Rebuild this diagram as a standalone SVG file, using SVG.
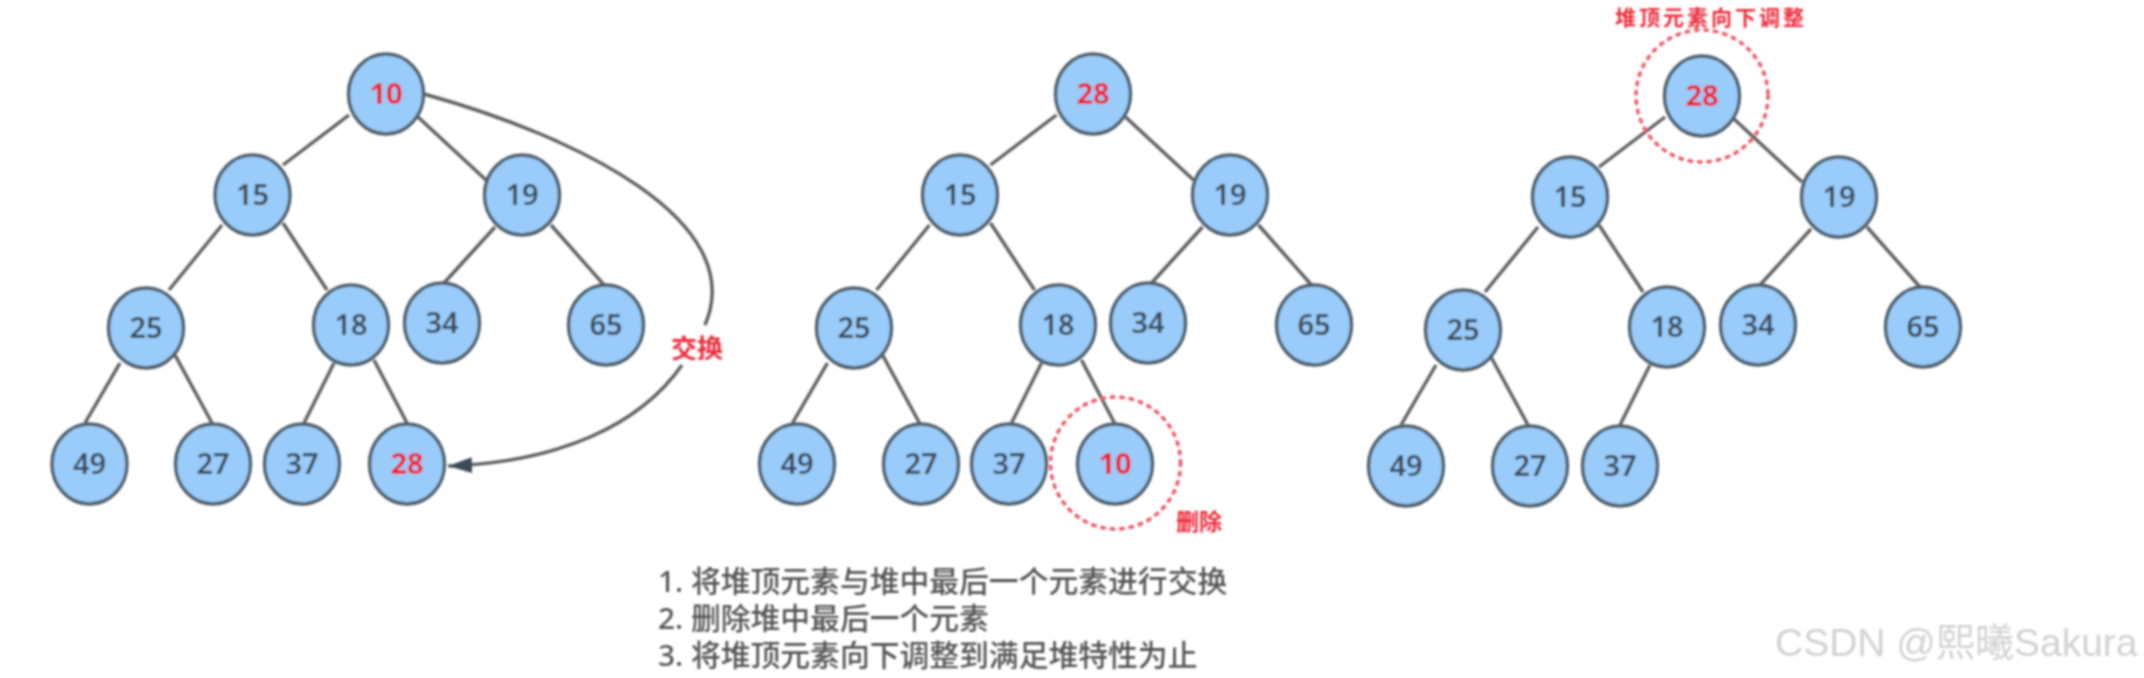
<svg xmlns="http://www.w3.org/2000/svg" width="2144" height="678" viewBox="0 0 2144 678">
<style>
.n ellipse{fill:#99ccfa;stroke:#505e6b;stroke-width:3.4}
.n text{font:600 29px "Noto Sans","Open Sans",sans-serif;fill:#3d4a58;text-anchor:middle}
.n text.r{fill:#ee2233;font-weight:700}
.e line{stroke:#5e5e5e;stroke-width:3.4}
.ring{fill:none;stroke:#ee5a68;stroke-width:3.6;stroke-dasharray:2.5 7;stroke-linecap:round}
.lab{font:700 24px "Noto Sans CJK SC",sans-serif;fill:#ee2b3a;text-anchor:middle}
.step{font:500 29.8px "Noto Sans","Noto Sans CJK SC",sans-serif;fill:#555}
.wm{font:400 39px "Liberation Sans","Noto Sans CJK SC",sans-serif;fill:#d2d2d2}
</style>
<defs>
<filter id="soft" x="0" y="0" width="2144" height="678" filterUnits="userSpaceOnUse"><feGaussianBlur stdDeviation="1"/></filter>
<marker id="arrow" markerUnits="userSpaceOnUse" markerWidth="26" markerHeight="18" refX="24" refY="8" orient="auto"><path d="M0 0L24 8L0 16Z" fill="#3d4a58"/></marker>
</defs>
<rect width="2144" height="678" fill="#fff"/>
<g filter="url(#soft)">
<g id="connectors" class="e">
<g id="edges-1">
<line x1="349" y1="115" x2="283" y2="165"/><line x1="418" y1="117" x2="486" y2="180"/>
<line x1="222" y1="225" x2="169" y2="290"/><line x1="283" y1="223" x2="327" y2="290"/>
<line x1="495" y1="227" x2="444" y2="283"/><line x1="551" y1="225" x2="604" y2="285"/>
<line x1="120" y1="363" x2="85" y2="423"/><line x1="175" y1="355" x2="212" y2="423"/>
<line x1="334" y1="363" x2="304" y2="423"/><line x1="374" y1="360" x2="407" y2="423"/>
</g>
<g id="edges-2" transform="translate(707.5 0)">
<line x1="349" y1="115" x2="283" y2="165"/><line x1="418" y1="117" x2="486" y2="180"/>
<line x1="222" y1="225" x2="169" y2="290"/><line x1="283" y1="223" x2="327" y2="290"/>
<line x1="495" y1="227" x2="444" y2="283"/><line x1="551" y1="225" x2="604" y2="285"/>
<line x1="120" y1="363" x2="85" y2="423"/><line x1="175" y1="355" x2="212" y2="423"/>
<line x1="334" y1="363" x2="304" y2="423"/><line x1="374" y1="360" x2="407" y2="423"/>
</g>
<g id="edges-3" transform="translate(1316 2)">
<line x1="349" y1="115" x2="283" y2="165"/><line x1="418" y1="117" x2="486" y2="180"/>
<line x1="222" y1="225" x2="169" y2="290"/><line x1="283" y1="223" x2="327" y2="290"/>
<line x1="495" y1="227" x2="444" y2="283"/><line x1="551" y1="225" x2="604" y2="285"/>
<line x1="120" y1="363" x2="85" y2="423"/><line x1="175" y1="355" x2="212" y2="423"/>
<line x1="334" y1="363" x2="304" y2="423"/>
</g>
<path id="swap-a" d="M424 94C575 136 750 220 705 325" fill="none" stroke="#5e5e5e" stroke-width="3.4"/>
<path id="swap-b" d="M682 365C640 425 560 462 448 466" fill="none" stroke="#5e5e5e" stroke-width="3.4" marker-end="url(#arrow)"/>
</g>
<ellipse id="ring-delete" class="ring" cx="1115.5" cy="463" rx="65" ry="66"/>
<ellipse id="ring-top" class="ring" cx="1702" cy="96" rx="66" ry="66"/>
<g class="n" id="t1n10"><ellipse cx="386" cy="94" rx="37.5" ry="40"/><text class="r" x="386" y="104">10</text></g>
<g class="n" id="t1n15"><ellipse cx="252.5" cy="195" rx="37.5" ry="40"/><text x="252.5" y="205">15</text></g>
<g class="n" id="t1n19"><ellipse cx="522" cy="195" rx="37.5" ry="40"/><text x="522" y="205">19</text></g>
<g class="n" id="t1n25"><ellipse cx="146" cy="328" rx="37.5" ry="40"/><text x="146" y="338">25</text></g>
<g class="n" id="t1n18"><ellipse cx="351" cy="325" rx="37.5" ry="40"/><text x="351" y="335">18</text></g>
<g class="n" id="t1n34"><ellipse cx="442" cy="323" rx="37.5" ry="40"/><text x="442" y="333">34</text></g>
<g class="n" id="t1n65"><ellipse cx="606" cy="325" rx="37.5" ry="40"/><text x="606" y="335">65</text></g>
<g class="n" id="t1n49"><ellipse cx="89.500" cy="464" rx="37.5" ry="40"/><text x="89.500" y="474">49</text></g>
<g class="n" id="t1n27"><ellipse cx="213" cy="464" rx="37.5" ry="40"/><text x="213" y="474">27</text></g>
<g class="n" id="t1n37"><ellipse cx="302" cy="464" rx="37.5" ry="40"/><text x="302" y="474">37</text></g>
<g class="n" id="t1n28"><ellipse cx="407" cy="464" rx="37.5" ry="40"/><text class="r" x="407" y="474">28</text></g>
<g class="n" id="t2n28"><ellipse cx="1093" cy="94" rx="37.500" ry="40"/><text class="r" x="1093" y="104">28</text></g>
<g class="n" id="t2n15"><ellipse cx="960" cy="195" rx="37.5" ry="40"/><text x="960" y="205">15</text></g>
<g class="n" id="t2n19"><ellipse cx="1230" cy="195" rx="37.5" ry="40"/><text x="1230" y="205">19</text></g>
<g class="n" id="t2n25"><ellipse cx="854" cy="328" rx="37.5" ry="40"/><text x="854" y="338">25</text></g>
<g class="n" id="t2n18"><ellipse cx="1058" cy="325" rx="37.5" ry="40"/><text x="1058" y="335">18</text></g>
<g class="n" id="t2n34"><ellipse cx="1148" cy="323" rx="37.5" ry="40"/><text x="1148" y="333">34</text></g>
<g class="n" id="t2n65"><ellipse cx="1314" cy="325" rx="37.5" ry="40"/><text x="1314" y="335">65</text></g>
<g class="n" id="t2n49"><ellipse cx="797" cy="464" rx="37.5" ry="40"/><text x="797" y="474">49</text></g>
<g class="n" id="t2n27"><ellipse cx="921" cy="464" rx="37.5" ry="40"/><text x="921" y="474">27</text></g>
<g class="n" id="t2n37"><ellipse cx="1009" cy="464" rx="37.5" ry="40"/><text x="1009" y="474">37</text></g>
<g class="n" id="t2n10"><ellipse cx="1115" cy="464" rx="37.5" ry="40"/><text class="r" x="1115" y="474">10</text></g>
<g class="n" id="t3n28"><ellipse cx="1702" cy="96" rx="37.5" ry="40"/><text class="r" x="1702" y="106">28</text></g>
<g class="n" id="t3n15"><ellipse cx="1570" cy="197" rx="37.5" ry="40"/><text x="1570" y="207">15</text></g>
<g class="n" id="t3n19"><ellipse cx="1839" cy="197" rx="37.5" ry="40"/><text x="1839" y="207">19</text></g>
<g class="n" id="t3n25"><ellipse cx="1463" cy="330" rx="37.5" ry="40"/><text x="1463" y="340">25</text></g>
<g class="n" id="t3n18"><ellipse cx="1667" cy="327" rx="37.5" ry="40"/><text x="1667" y="337">18</text></g>
<g class="n" id="t3n34"><ellipse cx="1758" cy="325" rx="37.5" ry="40"/><text x="1758" y="335">34</text></g>
<g class="n" id="t3n65"><ellipse cx="1923" cy="327" rx="37.5" ry="40"/><text x="1923" y="337">65</text></g>
<g class="n" id="t3n49"><ellipse cx="1406" cy="466" rx="37.5" ry="40"/><text x="1406" y="476">49</text></g>
<g class="n" id="t3n27"><ellipse cx="1530" cy="466" rx="37.5" ry="40"/><text x="1530" y="476">27</text></g>
<g class="n" id="t3n37"><ellipse cx="1620" cy="466" rx="37.5" ry="40"/><text x="1620" y="476">37</text></g>
<text class="lab" x="697" y="358" style="font-size:26px">交换</text>
<text class="lab" x="1199" y="530" style="font-size:23px">删除</text>
<text class="lab" x="1711" y="25" style="font-size:21px;letter-spacing:3px">堆顶元素向下调整</text>
<text class="step" x="658" y="592">1. 将堆顶元素与堆中最后一个元素进行交换</text>
<text class="step" x="658" y="629">2. 删除堆中最后一个元素</text>
<text class="step" x="658" y="666">3. 将堆顶元素向下调整到满足堆特性为止</text>
<text class="wm" x="1775" y="656">CSDN @熙曦Sakura</text>
</g>
</svg>
